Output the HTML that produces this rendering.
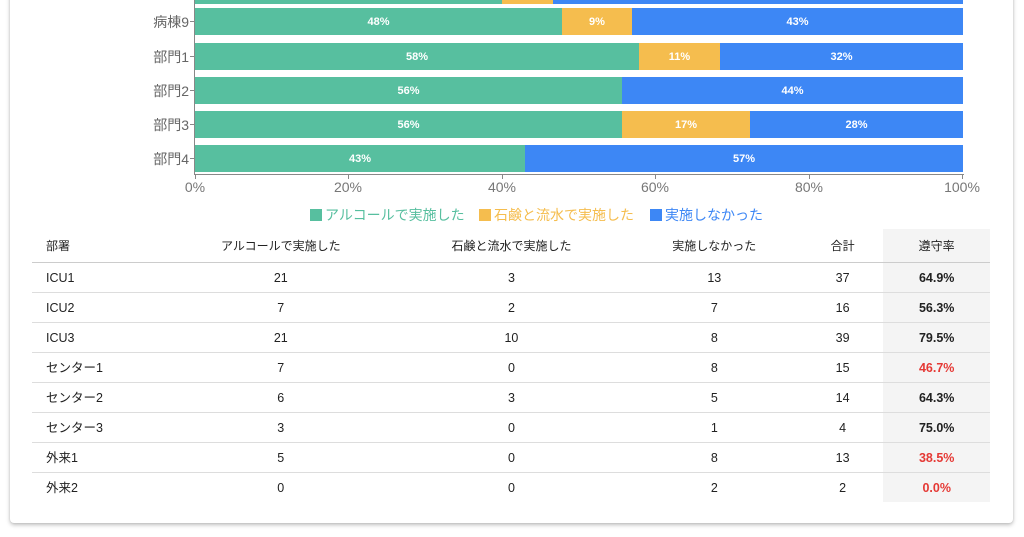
<!DOCTYPE html>
<html><head><meta charset="utf-8"><style>
body{margin:0;width:1024px;height:537px;background:#fff;font-family:"Liberation Sans","Noto Sans CJK JP",sans-serif;overflow:hidden;position:relative}
.card{position:absolute;left:10px;top:-10px;width:1003px;height:533px;background:#fff;border-radius:4px;box-shadow:0 2px 4px rgba(0,0,0,.25),0 0 2px rgba(0,0,0,.1)}
.bar{position:absolute;height:27px;color:#fff;font-size:11px;font-weight:bold;display:flex;align-items:center;justify-content:center}
.g{background:#57bf9f}.o{background:#f5bd4e}.b{background:#3d87f5}
.yl{position:absolute;right:835px;font-size:14px;color:#666;text-align:right;white-space:nowrap}
.tk{position:absolute;width:5px;height:1px;background:#888;left:190px}
.xl{position:absolute;top:179px;font-size:14px;color:#777;width:60px;text-align:center}
.xt{position:absolute;top:174px;width:1px;height:5px;background:#888}
.lg{position:absolute;top:205px;font-size:14px;white-space:nowrap}
.sq{display:inline-block;width:12px;height:12px;vertical-align:-1px;margin-right:3px}
table{position:absolute;left:32px;top:229px;width:958px;border-collapse:collapse;font-size:12.5px;color:#222}
td,th{height:29px;border-bottom:1px solid #ddd;text-align:center;font-weight:normal;padding:0;line-height:14px}
th{height:33px;border-bottom:1px solid #ccc;font-size:12px}
td:first-child,th:first-child{text-align:left;padding-left:14px}
.s{background:#f4f4f4;font-weight:bold;width:107px}
tr:last-child td{border-bottom:none}
.r{color:#e53935}
</style></head><body>
<div class="card"></div>
<div class="bar g" style="left:195px;top:-23px;width:307px"></div>
<div class="bar o" style="left:502px;top:-23px;width:51px"></div>
<div class="bar b" style="left:553px;top:-23px;width:410px"></div>

<div class="bar g" style="left:195px;top:8px;width:367px">48%</div>
<div class="bar o" style="left:562px;top:8px;width:70px">9%</div>
<div class="bar b" style="left:632px;top:8px;width:331px">43%</div>

<div class="bar g" style="left:195px;top:43px;width:444px">58%</div>
<div class="bar o" style="left:639px;top:43px;width:81px">11%</div>
<div class="bar b" style="left:720px;top:43px;width:243px">32%</div>

<div class="bar g" style="left:195px;top:77px;width:427px">56%</div>
<div class="bar b" style="left:622px;top:77px;width:341px">44%</div>

<div class="bar g" style="left:195px;top:111px;width:427px">56%</div>
<div class="bar o" style="left:622px;top:111px;width:128px">17%</div>
<div class="bar b" style="left:750px;top:111px;width:213px">28%</div>

<div class="bar g" style="left:195px;top:145px;width:330px">43%</div>
<div class="bar b" style="left:525px;top:145px;width:438px">57%</div>

<div style="position:absolute;left:194px;top:0;width:1px;height:175px;background:#888"></div>
<div style="position:absolute;left:194px;top:174px;width:770px;height:1px;background:#888"></div>
<div class="yl" style="top:12px">病棟9</div><div class="tk" style="top:21px"></div>
<div class="yl" style="top:47px">部門1</div><div class="tk" style="top:56px"></div>
<div class="yl" style="top:81px">部門2</div><div class="tk" style="top:90px"></div>
<div class="yl" style="top:115px">部門3</div><div class="tk" style="top:124px"></div>
<div class="yl" style="top:149px">部門4</div><div class="tk" style="top:158px"></div>
<div class="xt" style="left:195px"></div><div class="xl" style="left:165px">0%</div>
<div class="xt" style="left:348px"></div><div class="xl" style="left:318px">20%</div>
<div class="xt" style="left:502px"></div><div class="xl" style="left:472px">40%</div>
<div class="xt" style="left:655px"></div><div class="xl" style="left:625px">60%</div>
<div class="xt" style="left:809px"></div><div class="xl" style="left:779px">80%</div>
<div class="xt" style="left:962px"></div><div class="xl" style="left:932px">100%</div>

<div class="lg" style="left:310px;color:#57bf9f"><span class="sq g"></span>アルコールで実施した</div>
<div class="lg" style="left:479px;color:#f5bd4e"><span class="sq o"></span>石鹸と流水で実施した</div>
<div class="lg" style="left:650px;color:#3d87f5"><span class="sq b"></span>実施しなかった</div>

<table>
<tr><th style="width:120px">部署</th><th style="width:232px">アルコールで実施した</th><th style="width:232px">石鹸と流水で実施した</th><th style="width:176px">実施しなかった</th><th style="width:82px">合計</th><th class="s" style="font-weight:normal">遵守率</th></tr>
<tr><td>ICU1</td><td>21</td><td>3</td><td>13</td><td>37</td><td class="s">64.9%</td></tr>
<tr><td>ICU2</td><td>7</td><td>2</td><td>7</td><td>16</td><td class="s">56.3%</td></tr>
<tr><td>ICU3</td><td>21</td><td>10</td><td>8</td><td>39</td><td class="s">79.5%</td></tr>
<tr><td>センター1</td><td>7</td><td>0</td><td>8</td><td>15</td><td class="s r">46.7%</td></tr>
<tr><td>センター2</td><td>6</td><td>3</td><td>5</td><td>14</td><td class="s">64.3%</td></tr>
<tr><td>センター3</td><td>3</td><td>0</td><td>1</td><td>4</td><td class="s">75.0%</td></tr>
<tr><td>外来1</td><td>5</td><td>0</td><td>8</td><td>13</td><td class="s r">38.5%</td></tr>
<tr><td>外来2</td><td>0</td><td>0</td><td>2</td><td>2</td><td class="s r">0.0%</td></tr>
</table>
</body></html>
